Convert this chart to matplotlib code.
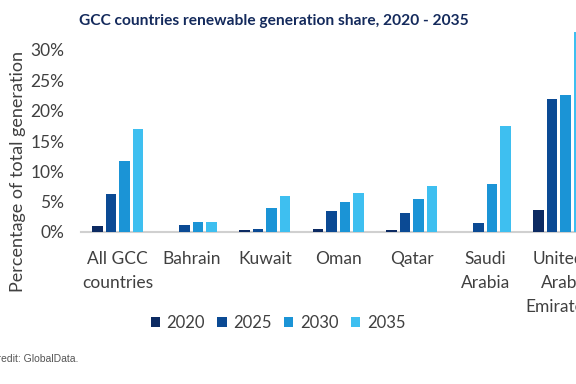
import matplotlib
matplotlib.use("Agg")
import matplotlib.pyplot as plt
import numpy as np

categories = ["All GCC\ncountries", "Bahrain", "Kuwait", "Oman", "Qatar",
              "Saudi\nArabia", "United\nArab\nEmirates"]
years = ["2020", "2025", "2030", "2035"]
s2020 = [1.0, 0.0, 0.3, 0.45, 0.35, 0.0, 3.7]
s2025 = [6.3, 1.2, 0.45, 3.4, 3.1, 1.5, 21.9]
s2030 = [11.7, 1.7, 4.0, 5.0, 5.4, 7.9, 22.6]
s2035 = [17.0, 1.7, 5.9, 6.5, 7.6, 17.5, 33.0]
yticks = [0, 5, 10, 15, 20, 25, 30]

series = [s2020, s2025, s2030, s2035]
colors = ["#0c2a62", "#0b4a94", "#1b94d6", "#3ebff0"]

plt.rcParams['font.family'] = ['Lato', 'DejaVu Sans']
fig = plt.figure(figsize=(5.76, 3.84), dpi=100)
ax = fig.add_axes([81/576, (384-232)/384, 514.5/576, 182/384])

x = np.arange(len(categories))
pitch = 0.184
width = 0.143
for k, (vals, col, yr) in enumerate(zip(series, colors, years)):
    ax.bar(x + (k - 1.5) * pitch, vals, width=width, color=col, label=yr,
           clip_on=False, zorder=3)

ax.set_xlim(-0.5, 6.5)
ax.set_ylim(0, 30)
ax.set_yticks(yticks)
ax.set_yticklabels([f"{v}%" for v in yticks])
ax.set_xticks(x)
ax.set_xticklabels(categories, linespacing=1.6)
for s in ["top", "right", "left"]:
    ax.spines[s].set_visible(False)
ax.spines["bottom"].set_color("#d0d0d0")
ax.spines["bottom"].set_linewidth(1.5)
ax.tick_params(axis="both", length=0, colors="#404040", labelsize=12.5)
ax.tick_params(axis="y", pad=12)
ax.tick_params(axis="x", pad=14)
for lab in ax.get_xticklabels():
    lab.set_verticalalignment("top")

fig.text(274/576, 1 - 21/384, "GCC countries renewable generation share, 2020 - 2035",
         ha="center", va="center", fontsize=11.2, fontweight="bold", color="#142a5c")
fig.text(18/576, 1 - 171/384, "Percentage of total generation", rotation=90,
         ha="center", va="center", fontsize=13, color="#404040")

fig.legend(loc="center", bbox_to_anchor=(278/576, 1 - 323/384), ncol=4,
           frameon=False, handlelength=0.55, handleheight=0.55, handletextpad=0.4,
           columnspacing=0.75, fontsize=12, labelcolor="#404040")

fig.text(-10/576, 1 - 359/384, "Credit: GlobalData.", ha="left", va="center",
         fontsize=7.5, color="#555555", family=["Liberation Sans", "DejaVu Sans"])

fig.savefig("out.png", dpi=100)
